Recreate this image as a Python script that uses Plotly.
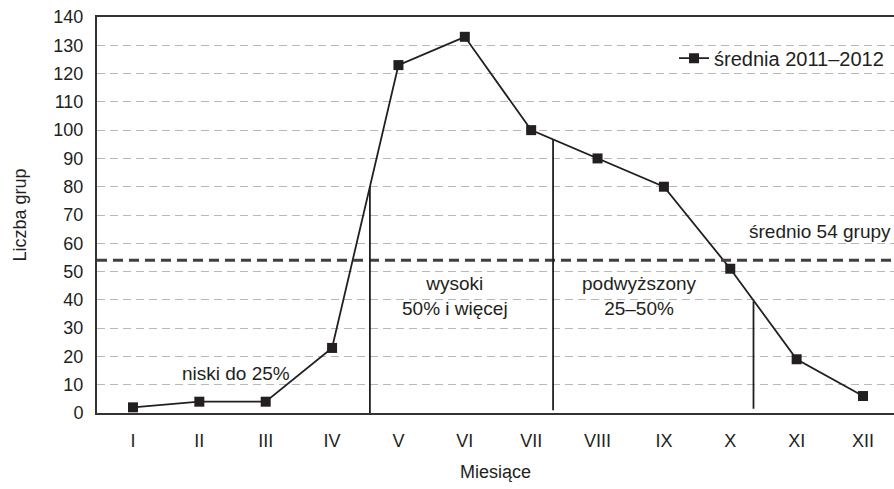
import plotly.graph_objects as go

months = ["I", "II", "III", "IV", "V", "VI", "VII", "VIII", "IX", "X", "XI", "XII"]
values = [2, 4, 4, 23, 123, 133, 100, 90, 80, 51, 19, 6]
mean_value = 54
series_name = "średnia 2011–2012"

# threshold separators (x position in category units, y bottom, y top)
sep_x = [3.57, 6.33, 9.35]
sep_y0 = [0, 1, 1.5]
sep_y1 = [80, 96.5, 39.5]

labels = ["niski do 25%", "wysoki<br>50% i więcej", "podwyższony<br>25–50%", "średnio 54 grupy"]
label_x = [1.55, 4.85, 7.63, 10.35]
label_y = [14, 41.5, 41.5, 64.3]

FONT = "Liberation Sans, Arial, sans-serif"
DARK = "#231f20"

fig = go.Figure()
xi = list(range(len(months)))
fig.add_trace(go.Scatter(
    x=xi, y=values, mode="lines+markers", name=series_name,
    line=dict(color=DARK, width=1.8),
    marker=dict(symbol="square", size=10, color=DARK),
))

shapes = []
shapes.append(dict(type="line", xref="paper", x0=0, x1=1, yref="y", y0=mean_value, y1=mean_value,
                   line=dict(color="#404040", width=3, dash="10px,6px")))
for x, y0, y1 in zip(sep_x, sep_y0, sep_y1):
    shapes.append(dict(type="line", xref="x", x0=x, x1=x, yref="y", y0=y0, y1=y1,
                       line=dict(color=DARK, width=1.8)))

annotations = []
for t, x, y in zip(labels, label_x, label_y):
    annotations.append(dict(text=t, x=x, y=y, xref="x", yref="y", showarrow=False,
                            font=dict(family=FONT, size=19, color=DARK), align="center"))

fig.update_layout(
    width=894, height=489,
    margin=dict(l=97, r=0, t=17, b=76),
    paper_bgcolor="white", plot_bgcolor="white",
    font=dict(family=FONT, size=18, color=DARK),
    shapes=shapes, annotations=annotations,
    showlegend=True,
    legend=dict(x=0.724, y=0.896, xanchor="left", yanchor="middle",
                bgcolor="rgba(0,0,0,0)", font=dict(family=FONT, size=20, color=DARK)),
    xaxis=dict(
        range=[-0.542, 11.467], tickmode="array", tickvals=xi, ticktext=months,
        showgrid=False, showline=True, linecolor="#333333", linewidth=2, mirror=True,
        ticks="outside", ticklen=10, tickcolor="rgba(0,0,0,0)", zeroline=False,
        title=dict(text="Miesiące", font=dict(family=FONT, size=18), standoff=16),
        tickfont=dict(family=FONT, size=18),
    ),
    yaxis=dict(
        range=[0, 140], tickmode="array", tickvals=list(range(0, 141, 10)),
        showgrid=True, gridcolor="#b8b8b8", gridwidth=1, griddash="8px,5px",
        showline=True, linecolor="#333333", linewidth=2,
        ticks="outside", ticklen=8, tickcolor="rgba(0,0,0,0)", zeroline=False,
        title=dict(text="Liczba grup", font=dict(family=FONT, size=18), standoff=22),
        tickfont=dict(family=FONT, size=18),
    ),
)

fig.write_html("out.html", config={"displayModeBar": False},
               post_script="document.body.style.margin='0';")
